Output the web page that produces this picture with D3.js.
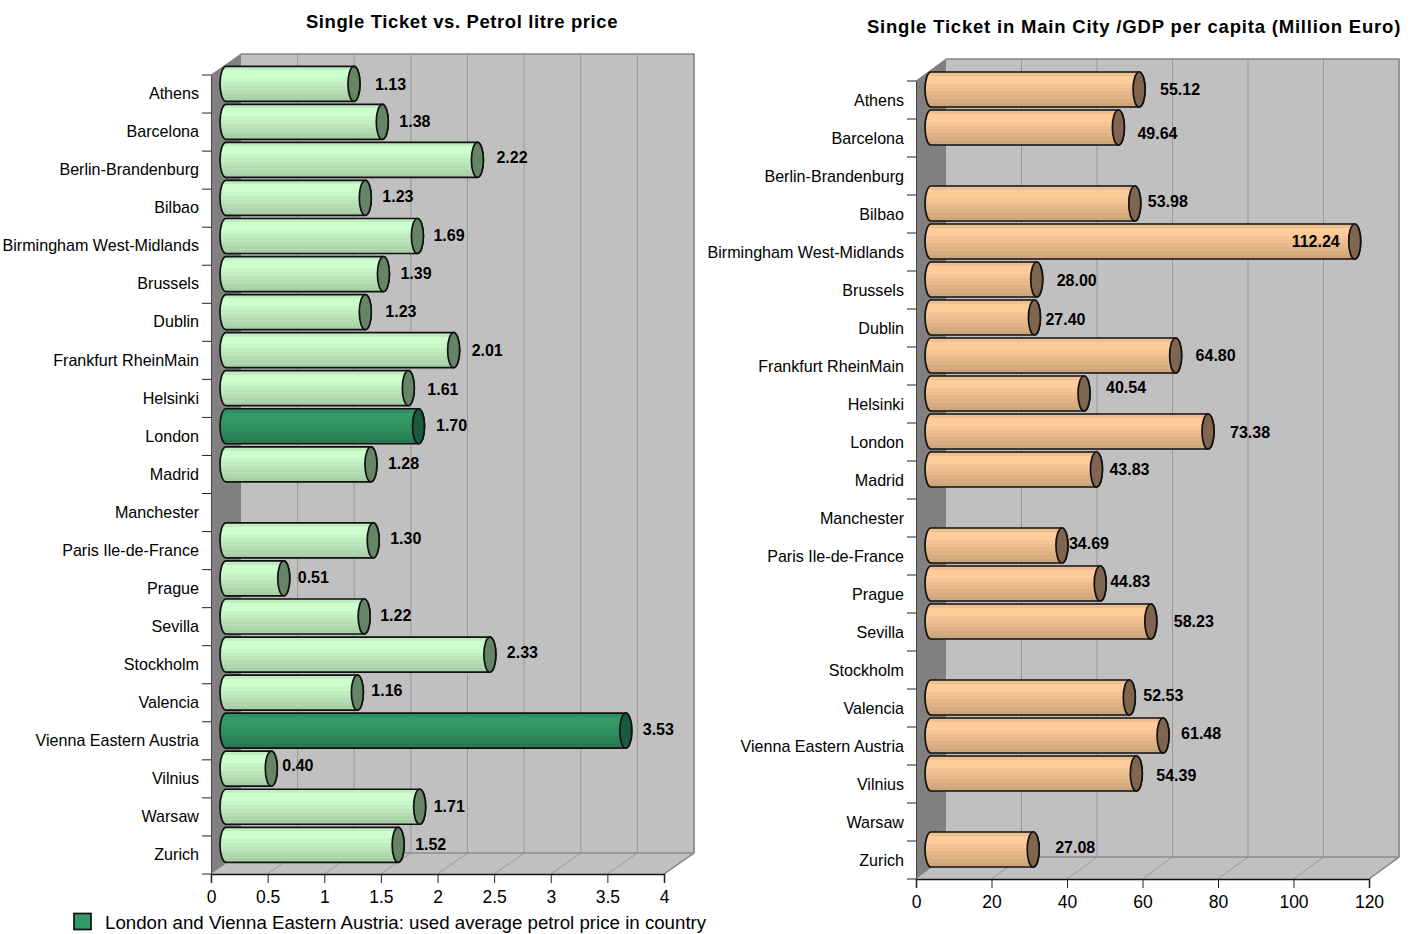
<!DOCTYPE html>
<html><head><meta charset="utf-8">
<script src="https://cdn.jsdelivr.net/npm/d3@7"></script>
<style>html,body{margin:0;padding:0;background:#fff}svg{display:block}text{font-family:"Liberation Sans",Arial,sans-serif;fill:#000}</style>
</head><body><svg id="c" width="1410" height="934"></svg>
<script>
const cities=["Athens","Barcelona","Berlin-Brandenburg","Bilbao","Birmingham West-Midlands","Brussels","Dublin","Frankfurt RheinMain","Helsinki","London","Madrid","Manchester","Paris Ile-de-France","Prague","Sevilla","Stockholm","Valencia","Vienna Eastern Austria","Vilnius","Warsaw","Zurich"];
const petrolRatio=[1.13,1.38,2.22,1.23,1.69,1.39,1.23,2.01,1.61,1.70,1.28,null,1.30,0.51,1.22,2.33,1.16,3.53,0.40,1.71,1.52];
const gdpRatio=[55.12,49.64,null,53.98,112.24,28.00,27.40,64.80,40.54,73.38,43.83,null,34.69,44.83,58.23,null,52.53,61.48,54.39,null,27.08];
const highlighted=["London","Vienna Eastern Austria"];
const petrolTicks=[0,0.5,1,1.5,2,2.5,3,3.5,4];
const gdpTicks=[0,20,40,60,80,100,120];
// hand placement of the value labels relative to the bar end (the original has them dragged about)
const petrolNudgeX=[21,17,19,17,16,17,20,18,19,17.5,17,0,17,14,16,17,14,17,11,14,17];
const petrolNudgeY=[0,-1,-3,-2,-1,-1,-1,0,1,-1,-1,0,-2,-1,-1,-2,-2,-1,-3,0,-1];
const gdpNudgeX=[21,19,0,13,-63,20,11,20,22,22,13,0,7,10,23,0,14,18,20,0,22];
const gdpNudgeY=[0,6,0,-2,0,1,2,0,-6,1,0,0,-2,-2,0,0,-2,-2,2,0,-2];

const svg=d3.select("#c");
const defs=svg.append("defs");
function bands(id,stops){
  const g=defs.append("linearGradient").attr("id",id).attr("x1",0).attr("x2",0).attr("y1",0).attr("y2",1);
  stops.forEach((c,i)=>{
    g.append("stop").attr("offset",i/stops.length).attr("stop-color",c);
    g.append("stop").attr("offset",(i+1)/stops.length).attr("stop-color",c);
  });
}
bands("gGreen",["#c0eec0","#ccffcc","#ccffcc","#c6f6c6","#c0eec0","#bae6ba","#b4dfb4","#aed7ae","#a8cfa8"]);
bands("gDark",["#2e9062","#339966","#339966","#319563","#2f9060","#2d8b5c","#2b8558","#298054","#277a50"]);
bands("gOrange",["#eebf90","#ffcc99","#ffcc99","#f6c594","#eebe8e","#e6b88a","#dfb286","#d7ac81","#cfa67c"]);

function panel(o){
  const g=svg.append("g");
  const x=d3.scaleLinear().domain(o.domain).range([o.x0,o.x1]);
  const y=d3.scaleBand().domain(cities).range([o.yTop,o.yBot]);
  const dx=o.dx,dy=o.dy;
  // side wall, back wall, floor
  g.append("path").attr("d",d3.line()([[o.x0,o.yTop],[o.x0+dx,o.yTop-dy],[o.x0+dx,o.yBot-dy],[o.x0,o.yBot]])).attr("fill","#808080").attr("stroke","#808080");
  g.append("rect").attr("x",o.x0+dx).attr("y",o.yTop-dy).attr("width",o.x1-o.x0).attr("height",o.yBot-o.yTop).attr("fill","#c0c0c0");
  g.append("path").attr("d",d3.line()([[o.x0,o.yBot],[o.x0+dx,o.yBot-dy],[o.x1+dx,o.yBot-dy],[o.x1,o.yBot]])).attr("fill","#c0c0c0");
  o.ticks.slice(1).forEach(t=>{
    g.append("path").attr("d",d3.line()([[x(t),o.yBot],[x(t)+dx,o.yBot-dy],[x(t)+dx,o.yTop-dy]])).attr("fill","none").attr("stroke","#999").attr("stroke-width",1);
  });
  g.append("path").attr("d",d3.line()([[o.x0+dx,o.yTop-dy],[o.x1+dx,o.yTop-dy],[o.x1+dx,o.yBot-dy],[o.x1,o.yBot]])).attr("fill","none").attr("stroke","#888").attr("stroke-width",1.5);
  g.append("path").attr("d",d3.line()([[o.x0+dx,o.yBot-dy],[o.x1+dx,o.yBot-dy]])).attr("stroke","#8c8c8c").attr("stroke-width",1.5);
  // front axes
  const ax=g.append("g").attr("transform",`translate(0,${o.yBot})`).call(d3.axisBottom(x).tickValues(o.ticks).tickFormat(d=>d).tickSize(9).tickPadding(8));
  ax.select(".domain").attr("stroke","#111").attr("stroke-width",1.5);
  ax.selectAll(".tick line").attr("stroke","#222");
  ax.selectAll("text").attr("font-size",17.5).attr("font-family",'"Liberation Sans",Arial,sans-serif').attr("fill","#000");
  const ay=g.append("g").attr("transform",`translate(${o.x0},0)`).call(d3.axisLeft(y).tickSize(0).tickPadding(12));
  ay.select(".domain").attr("stroke","#444");
  ay.selectAll(".tick text").attr("font-size",16.1).attr("font-family",'"Liberation Sans",Arial,sans-serif').attr("fill","#000").attr("dy","0.32em")
    .attr("y",o.labelShift);
  y.domain().forEach((c,i)=>{
    const yy=o.yTop+i*y.step();
    g.append("line").attr("x1",o.x0-9).attr("x2",o.x0).attr("y1",yy).attr("y2",yy).attr("stroke","#222");
  });
  g.append("line").attr("x1",o.x0-9).attr("x2",o.x0).attr("y1",o.yBot).attr("y2",o.yBot).attr("stroke","#222");
  // cylinders
  const ry=17.5,rx=6;
  const rows=cities.map((c,i)=>({c,i,v:o.values[i]})).filter(d=>d.v!=null);
  const bar=g.selectAll(".bar").data(rows).join("g").attr("class","bar");
  const cy=d=>y(d.c)+y.bandwidth()/2-o.lift;
  const sx=x(0)+dx/2;
  const cx=d=>x(d.v)+dx/2;
  bar.append("path")
    .attr("d",d=>`M${sx},${cy(d)-ry}L${cx(d)},${cy(d)-ry}A${rx},${ry} 0 0 1 ${cx(d)},${cy(d)+ry}L${sx},${cy(d)+ry}A${rx},${ry} 0 0 1 ${sx},${cy(d)-ry}Z`)
    .attr("fill",d=>`url(#${o.fill(d.c)})`).attr("stroke","#111").attr("stroke-width",1.7);
  bar.append("ellipse").attr("cx",cx).attr("cy",cy).attr("rx",rx).attr("ry",ry)
    .attr("fill",d=>o.cap(d.c)).attr("stroke","#111").attr("stroke-width",1.7);
  bar.append("text").attr("x",d=>cx(d)+o.nudgeX[d.i]).attr("y",d=>cy(d)+o.nudgeY[d.i]).attr("dy","0.36em")
    .attr("font-size",16).attr("font-weight","bold").text(d=>d3.format(".2f")(d.v));
  // title
  g.append("text").attr("x",o.titleX).attr("y",o.titleY).attr("text-anchor","middle").attr("font-size",18.5).attr("letter-spacing",o.titleSpacing).attr("font-weight","bold").text(o.title);
}

panel({x0:211,x1:664,yTop:75,yBot:874,dx:30,dy:21,lift:10.2,labelShift:0,domain:[0,4],ticks:petrolTicks,values:petrolRatio,
  nudgeX:petrolNudgeX,nudgeY:petrolNudgeY,
  fill:c=>highlighted.includes(c)?"gDark":"gGreen",cap:c=>highlighted.includes(c)?"#1a5a3e":"#668566",
  title:"Single Ticket vs. Petrol litre price",titleX:462,titleY:28,titleSpacing:0.6});
panel({x0:916,x1:1369,yTop:81,yBot:879,dx:30,dy:22,lift:10.5,labelShift:1,domain:[0,120],ticks:gdpTicks,values:gdpRatio,
  nudgeX:gdpNudgeX,nudgeY:gdpNudgeY,
  fill:c=>"gOrange",cap:c=>"#806650",
  title:"Single Ticket in Main City /GDP per capita (Million Euro)",titleX:1134,titleY:33,titleSpacing:0.8});

svg.append("rect").attr("x",74).attr("y",913.5).attr("width",17).attr("height",16).attr("fill","#339966").attr("stroke","#111").attr("stroke-width",1.7);
svg.append("text").attr("x",105).attr("y",929).attr("font-size",18.7).text("London and Vienna Eastern Austria: used average petrol price in country");
</script></body></html>
